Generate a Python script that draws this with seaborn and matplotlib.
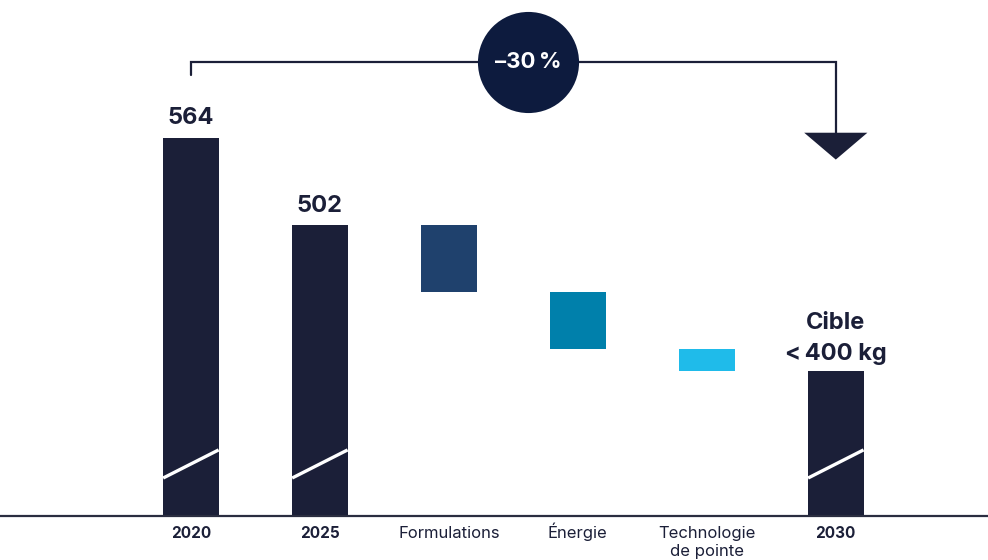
import numpy as np
import matplotlib
matplotlib.use("Agg")
import matplotlib.pyplot as plt
from matplotlib.patches import Polygon
import seaborn as sns

# Données (kg par unité)
categories = ['2020', '2025', 'Formulations', 'Énergie', 'Technologie\nde pointe', '2030']
valeur_2020 = 564
valeur_2025 = 502
baisses = [48, 40, 16]          # Formulations, Énergie, Technologie de pointe
valeur_2030 = valeur_2025 - sum(baisses)
etiquettes = ['564', '502', '', '', '', 'Cible\n<\u2009400 kg']
couleurs = ['#1b1f38', '#1b1f38', '#1f416d', '#0080ab', '#1fbbea', '#1b1f38']
gras = [True, True, False, False, False, True]

# Hauts et bas des barres (cascade)
hauts = [valeur_2020, valeur_2025]
bas = [0, 0]
courant = valeur_2025
for b in baisses:
    hauts.append(courant)
    bas.append(courant - b)
    courant -= b
hauts.append(valeur_2030)
bas.append(0)

sns.set_style("white")
plt.rcParams['font.family'] = ['Inter', 'DejaVu Sans']
texte = '#1b1f38'

fig = plt.figure(figsize=(9.88, 5.6), dpi=100)
ax = fig.add_axes([0, 44 / 560, 1, 516 / 560])

sns.barplot(x=categories, y=hauts, hue=categories, palette=couleurs,
            legend=False, width=0.43, ax=ax, saturation=1)
for p, b, h in zip(ax.patches, bas, hauts):
    p.set_y(b)
    p.set_height(h - b)
    p.set_linewidth(0)

ax.set_xlim(-1.48, 6.18)
ax.set_ylim(295, 662)

# Coupure de l'axe (traits blancs en diagonale)
demi = 0.43 / 2
for i in [0, 1, 5]:
    ax.plot([i - demi, i + demi], [322, 342], color='white', lw=2.4,
            solid_capstyle='butt', zorder=5)

# Étiquettes des valeurs
for i, (lab, h) in enumerate(zip(etiquettes, hauts)):
    if lab:
        multi = '\n' in lab
        ax.annotate(lab, (i, h), xytext=(0, 4.5 if multi else 6),
                    textcoords='offset points', ha='center', va='bottom',
                    fontsize=17, fontweight='bold', color=texte, linespacing=1.5)

# Crochet -30 %
y_crochet = 618
ax.plot([0, 0, 5, 5], [609, y_crochet, y_crochet, 566], color=texte, lw=1.6,
        solid_joinstyle='miter', zorder=3)
ax.add_patch(Polygon([(5 - 0.245, 567.6), (5 + 0.245, 567.6), (5, 548.5)],
                     closed=True, color=texte, lw=0, zorder=3))
ax.scatter([2.616], [y_crochet], s=5300, color='#0d1b3e', zorder=4, linewidths=0)
ax.text(2.616, y_crochet, '–30\u2009%', color='white', fontsize=16, fontweight='bold',
        ha='center', va='center', zorder=6)

# Axes
ax.set_yticks([])
ax.set_xticklabels([])
ax.set_xlabel('')
ax.set_ylabel('')
for s in ['top', 'left', 'right']:
    ax.spines[s].set_visible(False)
ax.spines['bottom'].set_color('#2a2d40')
ax.spines['bottom'].set_linewidth(1.6)
ax.tick_params(axis='x', length=0)

# Libellés des catégories (ligne de base commune)
for i, (cat, g) in enumerate(zip(categories, gras)):
    n = cat.count('\n')
    ax.annotate(cat, (i, 0), xycoords=('data', 'axes fraction'),
                xytext=(0, -0.72 * (22 + 18 * n)), textcoords='offset points',
                ha='center', va='baseline', fontsize=11 if g else 12,
                fontweight='bold' if g else 'normal', color=texte,
                linespacing=1.25, annotation_clip=False)

fig.savefig('out.png', dpi=100)
